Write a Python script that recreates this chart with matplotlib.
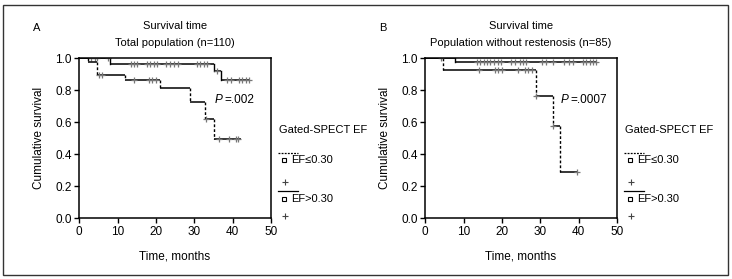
import numpy as np
import matplotlib
matplotlib.use("Agg")
import matplotlib.pyplot as plt
from matplotlib.lines import Line2D
from matplotlib.patches import Rectangle

plt.rcParams['font.family'] = ['Liberation Sans Narrow', 'Liberation Sans', 'DejaVu Sans']
FS = 8

# panel A - total population
a_hi_drops = [8.1, 35.1, 37.0]
a_hi_levels = [1.0, 0.967, 0.918, 0.866]
a_hi_end = 44.3
a_hi_cens = [3.1, 4.0, 4.7, 7.4, 13.4, 14.2, 15.1, 17.7, 18.5, 19.4, 20.3, 22.7, 23.8, 24.8, 25.7,
             30.8, 31.6, 32.5, 33.4, 36.0, 38.6, 39.5, 41.7, 42.6, 43.4, 44.3]
a_lo_drops = [2.2, 4.6, 12.0, 21.1, 29.0, 32.9, 35.1]
a_lo_levels = [1.0, 0.975, 0.895, 0.864, 0.817, 0.727, 0.623, 0.498]
a_lo_end = 42.1
a_lo_cens = [5.2, 5.9, 14.2, 18.2, 19.0, 19.9, 33.2, 36.5, 39.1, 40.8, 41.4]

# panel B - population without restenosis
b_hi_drops = [7.8]
b_hi_levels = [1.0, 0.975]
b_hi_end = 44.7
b_hi_cens = [13.4, 14.3, 15.2, 16.0, 16.9, 18.0, 18.9, 19.8, 22.4, 23.3, 24.7, 25.4, 26.3,
             30.5, 31.4, 33.4, 36.1, 37.6, 38.5, 41.1, 42.0, 42.9, 43.7, 44.6]
b_lo_drops = [4.7, 28.9, 33.3, 35.2]
b_lo_levels = [1.0, 0.925, 0.767, 0.575, 0.2875]
b_lo_end = 39.5
b_lo_cens = [4.0, 13.9, 18.2, 19.1, 20.0, 24.1, 26.0, 26.9, 27.8, 29.0, 33.4, 39.5]

titles = ["Total population (n=110)", "Population without restenosis (n=85)"]
pvals = ["=.002", "=.0007"]
letters = ["A", "B"]
xticks = [0, 10, 20, 30, 40, 50]
yticks = [0.0, 0.2, 0.4, 0.6, 0.8, 1.0]

W, H = 732, 279
fig = plt.figure(figsize=(W / 100, H / 100), dpi=100)


def fx(px):
    return px / W


def fy(py):
    return 1 - py / H


def km(ax, drops, levels, end, cens, vdash):
    # horizontal parts solid, drops dashed for the EF<=0.30 group
    edges = [0] + list(drops) + [end]
    for i in range(len(levels)):
        ax.plot([edges[i], edges[i + 1]], [levels[i], levels[i]], color='black', lw=1.1,
                solid_capstyle='butt')
    for i, t in enumerate(drops):
        ax.plot([t, t], [levels[i], levels[i + 1]], color='black', lw=1.0,
                ls=(0, (2, 1.5)) if vdash else '-')
    c = np.array(cens)
    y = np.array(levels)[np.searchsorted(drops, c, side='right')]
    ax.plot(c, y, ls='none', marker='+', ms=5, mew=0.9, color='#777777')


panels = [
    (79.3, [(a_hi_drops, a_hi_levels, a_hi_end, a_hi_cens), (a_lo_drops, a_lo_levels, a_lo_end, a_lo_cens)]),
    (425.3, [(b_hi_drops, b_hi_levels, b_hi_end, b_hi_cens), (b_lo_drops, b_lo_levels, b_lo_end, b_lo_cens)]),
]

for k, (left, curves) in enumerate(panels):
    right = left + 191.5
    ax = fig.add_axes([fx(left), fy(218.3), fx(191.5), fy(58.3) - fy(218.3)])
    km(ax, *curves[0], vdash=False)
    km(ax, *curves[1], vdash=True)
    ax.set_xlim(0, 50)
    ax.set_ylim(0, 1.0)
    ax.set_xticks(xticks)
    ax.set_yticks(yticks)
    ax.set_yticklabels([f"{v:.1f}" for v in yticks])
    ax.tick_params(direction='out', length=3.5, width=1, labelsize=FS + 0.5, pad=2)
    for s in ax.spines.values():
        s.set_linewidth(1.1)
    ax.set_xlabel("Time, months", fontsize=FS + 0.5, labelpad=9)
    ax.set_ylabel("Cumulative survival", fontsize=FS + 0.5, labelpad=7)
    ax.text(35.4, 0.74, "P", style='italic', fontsize=FS + 0.5, ha='left', va='center')
    ax.text(37.9, 0.74, pvals[k], fontsize=FS + 0.5, ha='left', va='center')

    cx = (left + right) / 2
    fig.text(fx(cx), fy(25.7), "Survival time", ha='center', va='center', fontsize=FS)
    fig.text(fx(cx), fy(42.7), titles[k], ha='center', va='center', fontsize=FS)
    fig.text(fx(left - 46), fy(28), letters[k], ha='left', va='center', fontsize=FS)

    # legend
    lx = right + 8
    fig.text(fx(lx), fy(130), "Gated-SPECT EF", ha='left', va='center', fontsize=FS)
    fig.add_artist(Line2D([fx(lx - 1), fx(lx + 19)], [fy(152.7), fy(152.7)], color='black',
                          lw=0.9, ls=(0, (1.5, 1))))
    fig.add_artist(Line2D([fx(lx - 1), fx(lx + 19)], [fy(190.7), fy(190.7)], color='black', lw=0.9))
    for yy, lab in [(160, "EF≤0.30"), (199, "EF>0.30")]:
        fig.add_artist(Line2D([fx(lx + 5)], [fy(yy)], marker='s', ms=3.5, mfc='white',
                              mec='black', mew=0.8, ls='none'))
        fig.text(fx(lx + 12), fy(yy), lab, ha='left', va='center', fontsize=FS)
    for yy in [181.7, 215.7]:
        fig.add_artist(Line2D([fx(lx + 6)], [fy(yy)], marker='+', ms=5, mew=0.8,
                              color='#444444', ls='none'))

fig.add_artist(Rectangle((fx(3), fy(275)), fx(725), fy(5) - fy(275), fill=False,
                         edgecolor='#333333', lw=1.0))

fig.savefig("out.png", dpi=100)
